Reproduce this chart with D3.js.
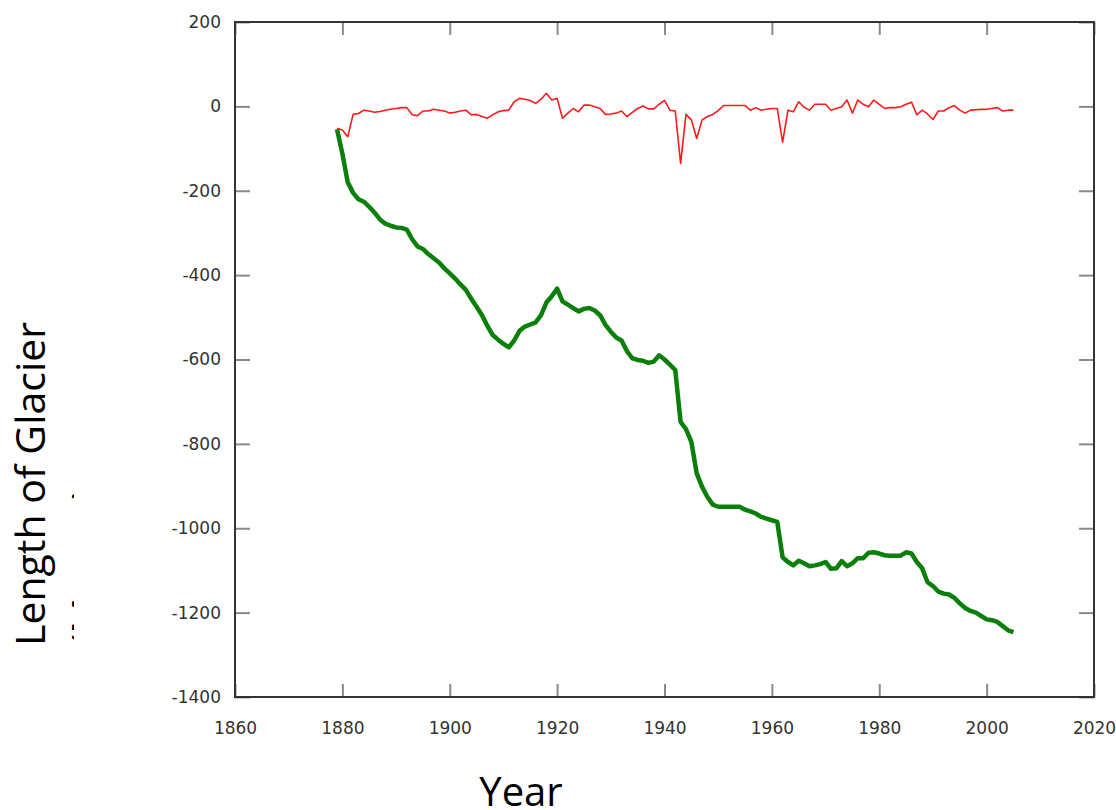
<!DOCTYPE html>
<html>
<head>
<meta charset="utf-8">
<script src="https://cdn.jsdelivr.net/npm/d3@7"></script>
<style>
  body { margin: 0; background: #fff; }
  svg { display: block; }
</style>
</head>
<body>
<svg id="chart" width="1116" height="810"></svg>
<script>
// years 1879..2005
var startYear = 1879;

// annual change of glacier length (red)
var annualChange = [
  -52, -56, -72, -19, -17, -9, -11, -14, -12, -9,
  -7, -5, -3, -3, -20, -22, -11, -11, -7, -9,
  -11, -16, -14, -11, -9, -20, -19, -24, -28, -20,
  -13, -10, -9, 11, 19, 17, 14, 7, 17, 31,
  15, 19, -28, -16, -5, -13, 3, 3, -1, -5,
  -19, -18, -16, -11, -24, -14, -5, 1, -6, -6,
  5, 14, -9, -11, -135, -19, -32, -76, -32, -24,
  -19, -10, 2, 2, 2, 2, 2, -9, -3, -9,
  -7, -5, -5, -85, -9, -13, 11, -2, -9, 5,
  5, 5, -9, -5, -1, 15, -16, 15, 5, -1,
  15, 5, -5, -3, -3, -1, 5, 10, -20, -9,
  -18, -31, -11, -11, -3, 2, -9, -16, -9, -8,
  -7, -7, -5, -3, -11, -9, -9
];

// cumulative length of glacier (green)
var cumulativeLength = [
  -54, -112, -180, -205, -220, -226, -238, -252, -268, -278,
  -283, -287, -288, -292, -315, -332, -338, -350, -360, -370,
  -384, -396, -408, -422, -435, -456, -475, -495, -520, -542,
  -553, -563, -571, -555, -532, -522, -517, -512, -495, -465,
  -450, -432, -462, -470, -478, -486, -480, -478, -484, -495,
  -518, -534, -548, -555, -580, -597, -601, -603, -608, -605,
  -590, -600, -612, -625, -748, -765, -795, -870, -902, -926,
  -944, -949, -949, -949, -949, -949, -956, -960, -965, -973,
  -977, -981, -985, -1069, -1080, -1088, -1077, -1083, -1090, -1088,
  -1085, -1080, -1096, -1095, -1078, -1090, -1083, -1071, -1071, -1058,
  -1057, -1060, -1064, -1065, -1065, -1065, -1057, -1060, -1080, -1095,
  -1128, -1137, -1150, -1155, -1157, -1165, -1178, -1189, -1196, -1200,
  -1208, -1216, -1218, -1222, -1232, -1242, -1246
];

var xTicks = [1860, 1880, 1900, 1920, 1940, 1960, 1980, 2000, 2020];
var yTicks = [200, 0, -200, -400, -600, -800, -1000, -1200, -1400];

var svg = d3.select('#chart');
// plot box edges
var plotLeft = 235, plotRight = 1094, plotTop = 22, plotBottom = 697;

var x = d3.scaleLinear().domain([1860, 2020]).range([plotLeft, plotRight]);
var y = d3.scaleLinear().domain([-1400, 200]).range([plotBottom, plotTop]);

function toPoints(values){
  return values.map(function(v, i){ return {year: startYear + i, value: v}; });
}

// plain hyphen minus like the original
function plain(d){ return String(d); }

var line = d3.line()
  .x(function(d){ return x(d.year); })
  .y(function(d){ return y(d.value); });

// axes with inward ticks
var yAxis = d3.axisLeft(y).tickValues(yTicks).tickSize(-15).tickPadding(14).tickFormat(plain);
var yAxisRight = d3.axisRight(y).tickValues(yTicks).tickSize(-15).tickFormat('');
var xAxis = d3.axisBottom(x).tickValues(xTicks).tickSize(-13).tickPadding(25).tickFormat(plain);
var xAxisTop = d3.axisTop(x).tickValues(xTicks).tickSize(-13).tickFormat('');

function styleAxis(g){
  g.select('.domain').remove();
  g.selectAll('.tick line').attr('stroke', '#8a8a8a').attr('stroke-width', 2);
  g.selectAll('.tick text')
    .attr('fill', '#333')
    .style('font-family', '"DejaVu Sans", sans-serif')
    .style('font-size', '17px');
}

svg.append('g').attr('transform', 'translate(' + plotLeft + ',0)').call(yAxis).call(styleAxis);
svg.append('g').attr('transform', 'translate(' + plotRight + ',0)').call(yAxisRight).call(styleAxis);
svg.append('g').attr('transform', 'translate(0,' + plotBottom + ')').call(xAxis).call(styleAxis);
svg.append('g').attr('transform', 'translate(0,' + plotTop + ')').call(xAxisTop).call(styleAxis);

// frame
svg.append('rect')
  .attr('x', plotLeft).attr('y', plotTop)
  .attr('width', plotRight - plotLeft).attr('height', plotBottom - plotTop)
  .attr('fill', 'none')
  .attr('stroke', '#333')
  .attr('stroke-width', 2);

// series
svg.append('path')
  .datum(toPoints(annualChange))
  .attr('d', line)
  .attr('fill', 'none')
  .attr('stroke', '#ff1a1a')
  .attr('stroke-width', 1.6)
  .attr('stroke-linejoin', 'round');

svg.append('path')
  .datum(toPoints(cumulativeLength))
  .attr('d', line)
  .attr('fill', 'none')
  .attr('stroke', '#0a800a')
  .attr('stroke-width', 4.5)
  .attr('stroke-linejoin', 'round');

// axis titles
svg.append('text')
  .attr('x', 521).attr('y', 806)
  .attr('text-anchor', 'middle')
  .style('font-family', '"Open Sans", sans-serif')
  .style('font-size', '40px')
  .attr('fill', '#000')
  .text('Year');

// y title, second line is cut off by its box
svg.append('clipPath').attr('id', 'ytitle-clip')
  .append('rect').attr('x', 0).attr('y', 0).attr('width', 74).attr('height', 810);

var ytitle = svg.append('g').attr('clip-path', 'url(#ytitle-clip)');
ytitle.append('text')
  .attr('transform', 'translate(45,646) rotate(-90)')
  .style('font-family', '"Open Sans", sans-serif')
  .style('font-size', '41px')
  .attr('fill', '#000')
  .text('Length of Glacier');
ytitle.append('text')
  .attr('transform', 'translate(101,646) rotate(-90)')
  .style('font-family', '"Open Sans", sans-serif')
  .style('font-size', '41px')
  .attr('fill', '#000')
  .text('(Meters)');
</script>
</body>
</html>
